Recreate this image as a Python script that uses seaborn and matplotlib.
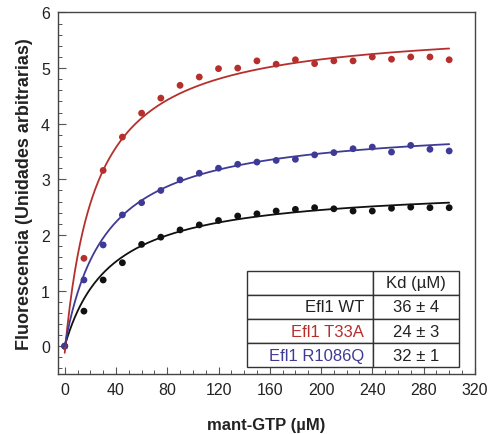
import numpy as np
import pandas as pd
import matplotlib
matplotlib.use("Agg")
import matplotlib.pyplot as plt
from matplotlib.ticker import MultipleLocator
import seaborn as sns

# mant-GTP titration (µM) and fluorescence readings per protein
conc = [0, 15, 30, 45, 60, 75, 90, 105, 120, 135, 150,
        165, 180, 195, 210, 225, 240, 255, 270, 285, 300]
wt = [0.00, 0.63, 1.19, 1.50, 1.83, 1.96, 2.09, 2.18, 2.26, 2.34, 2.38,
      2.43, 2.46, 2.49, 2.47, 2.43, 2.43, 2.48, 2.50, 2.49, 2.49]
t33a = [0.00, 1.58, 3.16, 3.76, 4.19, 4.46, 4.69, 4.84, 4.99, 5.00, 5.13,
        5.07, 5.15, 5.08, 5.13, 5.13, 5.20, 5.16, 5.20, 5.20, 5.15]
r1086q = [0.00, 1.19, 1.82, 2.36, 2.58, 2.80, 2.99, 3.11, 3.20, 3.27, 3.31,
          3.34, 3.36, 3.44, 3.48, 3.55, 3.58, 3.49, 3.61, 3.54, 3.51]

labels = ["Efl1 WT", "Efl1 T33A", "Efl1 R1086Q"]
kd = [36, 24, 32]
kd_err = [4, 3, 1]
fmax = [2.89, 5.91, 4.02]
f0 = [0.0, -0.12, 0.0]
colors = ["#111111", "#b5302d", "#3f3a96"]

sns.set_style("ticks")
plt.rcParams["font.family"] = ["Liberation Sans", "DejaVu Sans"]

points = pd.DataFrame({
    "conc": conc * 3,
    "fluor": wt + t33a + r1086q,
    "protein": [lab for lab in labels for _ in conc],
})

# one-site binding fit curves from the Kd values
xs = np.linspace(0, 300, 301)
fit = pd.concat([
    pd.DataFrame({"conc": xs,
                  "fluor": f0[i] + fmax[i] * xs / (kd[i] + xs),
                  "protein": labels[i]})
    for i in range(3)
])
palette = dict(zip(labels, colors))

fig = plt.figure(figsize=(4.9, 4.35), dpi=100)
ax = fig.add_axes([0.119, 0.138, 0.850, 0.831])

sns.lineplot(data=fit, x="conc", y="fluor", hue="protein", palette=palette,
             linewidth=1.3, legend=False, ax=ax)
sns.scatterplot(data=points, x="conc", y="fluor", hue="protein",
                palette=palette, s=24, edgecolor="none", legend=False, ax=ax)

ax.set_xlim(-5, 320)
ax.set_ylim(-0.5, 6)
ax.xaxis.set_major_locator(MultipleLocator(40))
ax.xaxis.set_minor_locator(MultipleLocator(10))
ax.yaxis.set_major_locator(MultipleLocator(1))
ax.yaxis.set_minor_locator(MultipleLocator(0.2))
ax.tick_params(which="both", direction="in", top=False, right=False,
               color="#555555", labelcolor="#222222", labelsize=11.5, pad=6)
ax.tick_params(axis="y", which="major", length=6, width=0.8)
ax.tick_params(axis="x", which="major", length=5, width=0.8)
ax.tick_params(which="minor", length=3, width=0.7)
for sp in ax.spines.values():
    sp.set_color("#444444")
    sp.set_linewidth(1.0)

ax.set_xlabel("mant-GTP (µM)", fontsize=12, fontweight="bold",
              color="#222222", labelpad=14)
ax.set_ylabel("Fluorescencia (Unidades arbitrarias)", fontsize=13,
              fontweight="bold", color="#222222", labelpad=6)

# Kd summary table
cell_text = [["", "Kd (µM)"]] + [
    [labels[i], f"{kd[i]} ± {kd_err[i]}"] for i in range(3)
]
tbl = ax.table(cellText=cell_text, colWidths=[0.5955, 0.4045],
               bbox=[0.452, 0.0185, 0.510, 0.267], zorder=5)
tbl.auto_set_font_size(False)
tbl.set_fontsize(12)
for (r, c), cell in tbl.get_celld().items():
    cell.set_edgecolor("#333333")
    cell.set_linewidth(1.0)
    cell.set_facecolor("white")
    txt = cell.get_text()
    if c == 0:
        txt.set_ha("right")
        cell.PAD = 0.07
        if r > 0:
            txt.set_color(colors[r - 1] if r > 1 else "#222222")
    else:
        txt.set_ha("center")
        txt.set_color("#222222")

fig.savefig("out.png", dpi=100)
